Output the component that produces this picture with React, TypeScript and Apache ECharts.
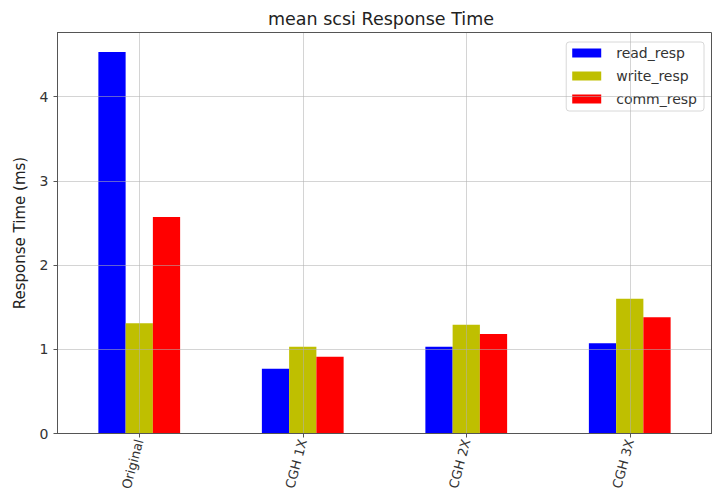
import React, { useEffect, useRef } from "react";
import * as echarts from "echarts";

const categories = ["Original", "CGH 1X", "CGH 2X", "CGH 3X"];
const readResp = [4.53, 0.77, 1.03, 1.07];
const writeResp = [1.31, 1.03, 1.29, 1.6];
const commResp = [2.57, 0.91, 1.18, 1.38];
const seriesNames = ["read_resp", "write_resp", "comm_resp"];
const yTicks = [0, 1, 2, 3, 4];

export default function App() {
  const ref = useRef<HTMLDivElement>(null);
  useEffect(() => {
    if (!ref.current) return;
    const chart = echarts.init(ref.current, null, { renderer: "svg" });
    const font = "DejaVu Sans";
    const colors = ["#0000ff", "#bfbf00", "#ff0000"];
    const data = [readResp, writeResp, commResp];
    const barSeries = seriesNames.map((name, i) => ({
      name,
      type: "bar",
      data: data[i],
      barGap: "0%",
      barCategoryGap: "50%",
      itemStyle: { color: colors[i] },
      z: 2,
    }));
    const gridLine = { color: "rgba(176,176,176,0.55)", type: "solid", width: 1 };
    chart.setOption({
      animation: false,
      textStyle: { fontFamily: font },
      title: {
        text: "mean scsi Response Time",
        left: 373,
        textAlign: "center",
        top: 2,
        padding: 0,
        textStyle: { fontFamily: font, fontSize: 17.5, fontWeight: "normal", color: "#222" },
      },
      legend: {
        orient: "vertical",
        right: 8,
        top: 34,
        itemWidth: 29,
        itemHeight: 9,
        itemGap: 9,
        padding: [4, 7, 5, 6],
        borderColor: "#d8d8d8",
        borderWidth: 1,
        borderRadius: 3,
        backgroundColor: "rgba(255,255,255,0.8)",
        icon: "rect",
        textStyle: {
          fontFamily: font,
          fontSize: 14,
          lineHeight: 14,
          color: "#333",
          padding: [0, 0, 0, 10],
        },
        data: seriesNames,
      },
      grid: {
        left: 49.5,
        right: 0.5,
        top: 24.5,
        bottom: 59.5,
        show: false,
        containLabel: false,
        outerBoundsMode: "none",
      },
      xAxis: {
        type: "category",
        data: categories,
        axisLine: { show: true, lineStyle: { color: "#555", width: 1 } },
        axisTick: { show: true, alignWithLabel: true, length: 4, lineStyle: { color: "#555" } },
        axisLabel: { rotate: 75, fontFamily: font, fontSize: 13, color: "#333", margin: 6 },
        splitLine: { show: false },
      },
      yAxis: {
        type: "value",
        min: 0,
        max: 4.76,
        interval: 1,
        name: "Response Time (ms)",
        nameLocation: "middle",
        nameGap: 30,
        nameTextStyle: { fontFamily: font, fontSize: 15, color: "#222" },
        axisLine: { show: true, lineStyle: { color: "#555", width: 1 } },
        axisTick: { show: true, length: 4, lineStyle: { color: "#555" } },
        axisLabel: {
          fontFamily: font,
          fontSize: 14,
          color: "#333",
          margin: 9,
          showMaxLabel: false,
          formatter: (v: number) => (yTicks.includes(v) ? String(v) : ""),
        },
        splitLine: { show: false },
      },
      graphic: [
        {
          type: "rect",
          shape: { x: 49.5, y: 24.5, width: 654, height: 401 },
          style: { fill: "none", stroke: "#555", lineWidth: 1 },
          silent: true,
          z: 10,
        },
      ],
      series: [
        ...barSeries,
        {
          name: "grid",
          type: "line",
          data: [],
          silent: true,
          z: 5,
          markLine: {
            silent: true,
            symbol: "none",
            label: { show: false },
            lineStyle: gridLine,
            data: [
              ...categories.map((c) => ({ xAxis: c })),
              ...yTicks.slice(1).map((v) => ({ yAxis: v })),
            ],
          },
        },
      ],
    });
    return () => chart.dispose();
  }, []);
  return <div ref={ref} style={{ width: 704, height: 485 }} />;
}
